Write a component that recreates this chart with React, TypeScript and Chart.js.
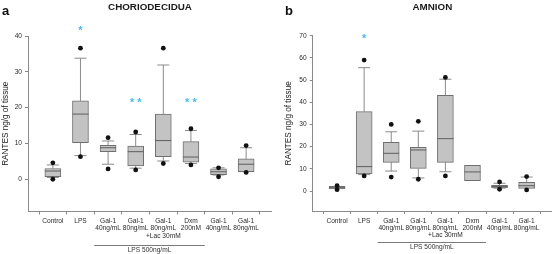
import React, { useEffect, useRef } from 'react';
import { Chart, registerables } from 'chart.js';
Chart.register(...registerables);

// ---------- data ----------
const categories: string[][] = [
  ['Control'],
  ['LPS'],
  ['Gal-1', '40ng/mL'],
  ['Gal-1', '80ng/mL'],
  ['Gal-1', '80ng/mL', '+Lac 30mM'],
  ['Dxm', '200nM'],
  ['Gal-1', '40ng/mL'],
  ['Gal-1', '80ng/mL'],
];
const groupLabel = 'LPS 500ng/mL';

// Panel a – CHORIODECIDUA
const yTicksA = [0, 10, 20, 30, 40];
const q1A = [0.7, 10.2, 7.7, 3.7, 6.3, 4.8, 1.3, 2.1];
const medianA = [2.3, 18.2, 8.8, 7.7, 10.8, 6.2, 2.1, 4.2];
const q3A = [3.0, 21.9, 9.5, 9.3, 18.2, 10.5, 2.9, 5.7];
const whiskerLowA = [0.5, 6.6, 4.2, 3.1, 5.1, 4.4, 1.2, 2.1];
const whiskerHighA = [4.0, 33.8, 10.7, 12.5, 31.9, 13.6, 3.2, 8.8];
const outlierLowA = [0.0, 6.3, 2.9, 2.6, 4.4, 4.0, 0.7, 1.9];
const outlierHighA = [4.6, 36.6, 11.6, 13.2, 36.6, 14.1, 3.2, 9.4];
const starCatsA = [1, 3, 5];
const starValuesA = [42.3, 22.1, 22.2];
const starTextsA = ['*', '* *', '* *'];

// Panel b – AMNION
const yTicksB = [0, 10, 20, 30, 40, 50, 60, 70];
const q1B = [0.9, 7.7, 12.9, 10.2, 12.9, 4.7, 1.4, 1.2];
const medianB = [1.5, 11.0, 17.0, 18.5, 23.6, 8.6, 2.0, 2.4];
const q3B = [2.1, 35.8, 21.9, 19.7, 43.1, 11.6, 2.6, 3.9];
const whiskerLowB = [0.9, 7.4, 9.0, 5.9, 8.7, 4.7, 1.3, 1.2];
const whiskerHighB = [2.1, 55.6, 26.7, 27.0, 50.4, 11.6, 3.5, 6.3];
const outlierLowB = [0.6, 6.8, 6.3, 5.3, 6.8, null, 0.8, 0.5];
const outlierHighB = [2.4, 59.0, 30.0, 31.4, 51.2, null, 4.1, 6.5];
const starCatsB = [1];
const starValuesB = [70.0];
const starTextsB = ['*'];

const FONT = "'Liberation Sans', Arial, Helvetica, sans-serif";

interface PanelData {
  letter: string;
  title: string;
  yTicks: number[];
  yMin: number;
  yMax: number;
  q1: number[];
  med: number[];
  q3: number[];
  wLo: number[];
  wHi: number[];
  oLo: (number | null)[];
  oHi: (number | null)[];
  starCats: number[];
  starValues: number[];
  starTexts: string[];
  // layout
  axisWidth: number;
  xAxisHeight: number;
  padTop: number;
  padRight: number;
  yTitlePad: number;
  groupLineY: number;
  groupLabelY: number;
  letterX: number;
}

const panels: PanelData[] = [
  {
    letter: 'a', title: 'CHORIODECIDUA', yTicks: yTicksA, yMin: -9, yMax: 40,
    q1: q1A, med: medianA, q3: q3A, wLo: whiskerLowA, wHi: whiskerHighA,
    oLo: outlierLowA, oHi: outlierHighA,
    starCats: starCatsA, starValues: starValuesA, starTexts: starTextsA,
    axisWidth: 28, xAxisHeight: 42.5, padTop: 36, padRight: 7, yTitlePad: 0.8,
    groupLineY: 245, groupLabelY: 250.5, letterX: 2,
  },
  {
    letter: 'b', title: 'AMNION', yTicks: yTicksB, yMin: -9, yMax: 70,
    q1: q1B, med: medianB, q3: q3B, wLo: whiskerLowB, wHi: whiskerHighB,
    oLo: outlierLowB, oHi: outlierHighB,
    starCats: starCatsB, starValues: starValuesB, starTexts: starTextsB,
    axisWidth: 32.7, xAxisHeight: 43, padTop: 35.7, padRight: 3, yTitlePad: 4.3,
    groupLineY: 242, groupLabelY: 247.5, letterX: 5,
  },
];

function BoxPanel({ p }: { p: PanelData }) {
  const ref = useRef<HTMLCanvasElement | null>(null);
  useEffect(() => {
    const canvas = ref.current!;
    const idx = categories.map((_, i) => i);

    const boxData = idx.map((i) => ({ x: i, y: [p.q1[i], p.q3[i]] }));
    const whiskers = idx.flatMap((i) => [
      { x: i, y: p.q3[i] }, { x: i, y: p.wHi[i] }, { x: i, y: null },
      { x: i, y: p.wLo[i] }, { x: i, y: p.q1[i] }, { x: i, y: null },
    ]);
    const caps: { x: number; y: number }[] = [];
    idx.forEach((i) => {
      if (p.wHi[i] > p.q3[i]) caps.push({ x: i, y: p.wHi[i] });
      if (p.wLo[i] < p.q1[i]) caps.push({ x: i, y: p.wLo[i] });
    });
    const medians = idx.map((i) => ({ x: i, y: p.med[i] }));
    const outliers: { x: number; y: number }[] = [];
    idx.forEach((i) => {
      const lo = p.oLo[i];
      const hi = p.oHi[i];
      if (lo !== null) outliers.push({ x: i, y: lo });
      if (hi !== null) outliers.push({ x: i, y: hi });
    });

    const annot = {
      id: 'annot',
      afterDraw(chart: any) {
        const ctx = chart.ctx as CanvasRenderingContext2D;
        const xs = chart.scales.x;
        const ys = chart.scales.y;
        const ca = chart.chartArea;
        ctx.save();
        // panel letter
        ctx.fillStyle = '#111';
        ctx.font = `bold 13px ${FONT}`;
        ctx.textAlign = 'left';
        ctx.textBaseline = 'alphabetic';
        ctx.fillText(p.letter, p.letterX, 15);
        // title
        ctx.font = `bold 9.8px ${FONT}`;
        ctx.textAlign = 'center';
        ctx.fillStyle = '#1a1a1a';
        ctx.fillText(p.title, (ca.left + ca.right) / 2 + 0.5, 10.2);
        // stars
        ctx.fillStyle = '#3fbdf5';
        ctx.font = `bold 11px ${FONT}`;
        p.starCats.forEach((c, k) => {
          const x = xs.getPixelForValue(c);
          const y = ys.getPixelForValue(p.starValues[k]);
          ctx.fillText(p.starTexts[k], x, y + 6.3);
        });
        // group line + label
        const x1 = xs.getPixelForValue(1.5);
        const x2 = xs.getPixelForValue(5.5);
        ctx.strokeStyle = '#7a7a7a';
        ctx.lineWidth = 1;
        ctx.beginPath();
        ctx.moveTo(x1, p.groupLineY + 0.5);
        ctx.lineTo(x2, p.groupLineY + 0.5);
        ctx.stroke();
        ctx.fillStyle = '#333';
        ctx.font = `6.6px ${FONT}`;
        ctx.textBaseline = 'middle';
        ctx.fillText(groupLabel, (x1 + x2) / 2, p.groupLabelY);
        ctx.restore();
      },
    };

    const chart = new Chart(canvas, {
      type: 'bar',
      data: {
        datasets: [
          {
            type: 'line',
            data: outliers as any,
            showLine: false,
            pointRadius: 2.4,
            pointBackgroundColor: '#111',
            pointBorderColor: '#111',
            pointBorderWidth: 0,
            order: 0,
          } as any,
          {
            type: 'line',
            data: medians as any,
            showLine: false,
            pointStyle: 'line',
            pointRadius: 8,
            pointBorderColor: '#5e5e5e',
            pointBorderWidth: 1,
            order: 1,
          } as any,
          {
            type: 'bar',
            data: boxData as any,
            barThickness: 16,
            backgroundColor: '#c3c3c3',
            borderColor: '#6f6f6f',
            borderWidth: 1,
            borderSkipped: false,
            order: 2,
          } as any,
          {
            type: 'line',
            data: whiskers as any,
            spanGaps: false,
            borderColor: '#8a8a8a',
            borderWidth: 1,
            pointRadius: 0,
            order: 3,
          } as any,
          {
            type: 'line',
            data: caps as any,
            showLine: false,
            pointStyle: 'line',
            pointRadius: 6,
            pointBorderColor: '#8a8a8a',
            pointBorderWidth: 1,
            order: 3,
          } as any,
        ],
      },
      options: {
        animation: false,
        responsive: false,
        events: [],
        layout: { padding: { top: p.padTop, right: p.padRight, left: 0, bottom: 0 } },
        plugins: { legend: { display: false }, tooltip: { enabled: false }, title: { display: false } },
        scales: {
          x: {
            type: 'linear',
            min: -0.9,
            max: 7.9,
            offset: false,
            afterBuildTicks: (s: any) => { s.ticks = categories.map((_, i) => ({ value: i })); },
            afterFit: (s: any) => { s.height = p.xAxisHeight; },
            grid: { drawOnChartArea: false, drawTicks: true, tickLength: 3, color: '#888' },
            border: { display: true, color: '#8a8a8a', width: 1 },
            ticks: {
              autoSkip: false,
              maxRotation: 0,
              minRotation: 0,
              padding: 3,
              color: '#2a2a2a',
              font: { family: FONT, size: 6.6, lineHeight: 1.12 },
              callback: (v: any) => categories[Math.round(Number(v))] ?? '',
            },
          },
          y: {
            type: 'linear',
            min: p.yMin,
            max: p.yMax,
            afterBuildTicks: (s: any) => { s.ticks = p.yTicks.map((v) => ({ value: v })); },
            afterFit: (s: any) => { s.width = p.axisWidth; },
            grid: { drawOnChartArea: false, drawTicks: true, tickLength: 3, color: '#888' },
            border: { display: true, color: '#8a8a8a', width: 1 },
            ticks: {
              padding: 3,
              color: '#2a2a2a',
              font: { family: FONT, size: 6.6 },
            },
            title: {
              display: true,
              text: 'RANTES ng/g of tissue',
              color: '#222',
              font: { family: FONT, size: 8.2 },
              padding: { top: p.yTitlePad, bottom: 0 },
            },
          },
        },
      } as any,
      plugins: [annot],
    });
    return () => chart.destroy();
  }, [p]);
  return <canvas ref={ref} width={280} height={254} style={{ width: 280, height: 254, display: 'block' }} />;
}

export default function App() {
  return (
    <div style={{ position: 'absolute', left: 0, top: 0, width: 560, height: 254, display: 'flex', background: '#fff' }}>
      {panels.map((p) => (
        <BoxPanel key={p.letter} p={p} />
      ))}
    </div>
  );
}
